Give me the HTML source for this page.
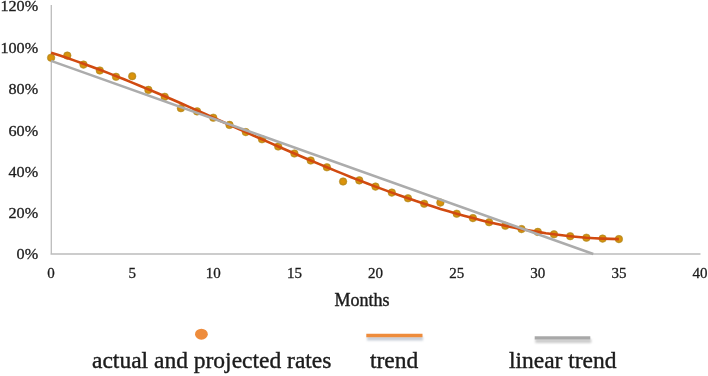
<!DOCTYPE html>
<html><head><meta charset="utf-8"><title>Chart</title>
<style>
html,body{margin:0;padding:0;background:#fff;}
body{width:708px;height:376px;overflow:hidden;}
svg{display:block;font-family:"Liberation Serif",serif;}
text{fill:#1c1c1c;stroke:#1c1c1c;stroke-width:0.4px;}
.t{font-size:15.5px;}
.x{font-size:15px;}
.t text,.x text{stroke-width:0.3px;}
.l{font-size:23.5px;}
</style></head><body>
<svg width="708" height="376" viewBox="0 0 708 376">
<defs><radialGradient id="dg"><stop offset="0" stop-color="#e29408"/><stop offset="0.55" stop-color="#d8920c"/><stop offset="1" stop-color="#b98a1c"/></radialGradient><filter id="sh" filterUnits="userSpaceOnUse" x="350" y="320" width="260" height="40"><feGaussianBlur stdDeviation="1.1"/></filter></defs>
<rect width="708" height="376" fill="#fff"/>
<path d="M51.3 5V254.6M50.5 254H700.5" stroke="#bcbcbc" stroke-width="1.3" fill="none"/>
<g fill="url(#dg)" stroke="#b98a1c" stroke-width="0.5"><circle cx="51.1" cy="57.7" r="3.8"/><circle cx="67.3" cy="55.6" r="3.8"/><circle cx="83.5" cy="64.6" r="3.8"/><circle cx="99.8" cy="70.5" r="3.8"/><circle cx="116.0" cy="76.8" r="3.8"/><circle cx="132.2" cy="76.2" r="3.8"/><circle cx="148.4" cy="89.9" r="3.8"/><circle cx="164.7" cy="96.8" r="3.8"/><circle cx="180.9" cy="108.2" r="3.8"/><circle cx="197.1" cy="111.4" r="3.8"/><circle cx="213.3" cy="117.7" r="3.8"/><circle cx="229.5" cy="124.9" r="3.8"/><circle cx="245.8" cy="132.1" r="3.8"/><circle cx="262.0" cy="139.3" r="3.8"/><circle cx="278.2" cy="146.5" r="3.8"/><circle cx="294.4" cy="153.5" r="3.8"/><circle cx="310.7" cy="160.5" r="3.8"/><circle cx="326.9" cy="167.3" r="3.8"/><circle cx="343.1" cy="181.5" r="3.8"/><circle cx="359.3" cy="180.4" r="3.8"/><circle cx="375.5" cy="186.6" r="3.8"/><circle cx="391.8" cy="192.6" r="3.8"/><circle cx="408.0" cy="198.3" r="3.8"/><circle cx="424.2" cy="203.7" r="3.8"/><circle cx="440.4" cy="202.6" r="3.8"/><circle cx="456.7" cy="213.7" r="3.8"/><circle cx="472.9" cy="218.1" r="3.8"/><circle cx="489.1" cy="222.2" r="3.8"/><circle cx="505.3" cy="225.8" r="3.8"/><circle cx="521.5" cy="229.1" r="3.8"/><circle cx="537.8" cy="231.9" r="3.8"/><circle cx="554.0" cy="234.3" r="3.8"/><circle cx="570.2" cy="236.2" r="3.8"/><circle cx="586.4" cy="237.7" r="3.8"/><circle cx="602.6" cy="238.6" r="3.8"/><circle cx="618.9" cy="239.1" r="3.8"/></g>
<polyline points="51.1,52.7 59.2,55.3 67.3,58.0 75.4,60.9 83.5,63.8 91.7,66.7 99.8,69.8 107.9,72.9 116.0,76.1 124.1,79.3 132.2,82.6 140.3,86.0 148.4,89.4 156.5,92.8 164.7,96.3 172.8,99.8 180.9,103.3 189.0,106.9 197.1,110.5 205.2,114.0 213.3,117.7 221.4,121.3 229.5,124.9 237.7,128.5 245.8,132.1 253.9,135.7 262.0,139.3 270.1,142.9 278.2,146.5 286.3,150.0 294.4,153.5 302.5,157.0 310.7,160.5 318.8,163.9 326.9,167.3 335.0,170.6 343.1,173.9 351.2,177.2 359.3,180.4 367.4,183.5 375.5,186.6 383.7,189.6 391.8,192.6 399.9,195.5 408.0,198.3 416.1,201.1 424.2,203.7 432.3,206.3 440.4,208.9 448.5,211.3 456.7,213.7 464.8,215.9 472.9,218.1 481.0,220.2 489.1,222.2 497.2,224.0 505.3,225.8 513.4,227.5 521.5,229.1 529.6,230.5 537.8,231.9 545.9,233.2 554.0,234.3 562.1,235.3 570.2,236.2 578.3,237.0 586.4,237.7 594.5,238.2 602.6,238.6 610.8,238.9 618.9,239.1" fill="none" stroke="#d14a10" stroke-width="2.6" stroke-linejoin="round"/>
<line x1="51.1" y1="60.9" x2="593.3" y2="254" stroke="#acacac" stroke-width="2.5"/>
<g class="t"><text x="38.2" y="259.0" text-anchor="end" textLength="21.6" lengthAdjust="spacingAndGlyphs">0%</text><text x="38.2" y="218.2" text-anchor="end" textLength="29.7" lengthAdjust="spacingAndGlyphs">20%</text><text x="38.2" y="177.0" text-anchor="end" textLength="29.7" lengthAdjust="spacingAndGlyphs">40%</text><text x="38.2" y="135.6" text-anchor="end" textLength="29.7" lengthAdjust="spacingAndGlyphs">60%</text><text x="38.2" y="94.1" text-anchor="end" textLength="29.7" lengthAdjust="spacingAndGlyphs">80%</text><text x="38.2" y="52.8" text-anchor="end" textLength="37.8" lengthAdjust="spacingAndGlyphs">100%</text><text x="38.2" y="11.4" text-anchor="end" textLength="37.8" lengthAdjust="spacingAndGlyphs">120%</text></g><g class="x"><text x="51.1" y="277.9" text-anchor="middle">0</text><text x="132.2" y="277.9" text-anchor="middle">5</text><text x="213.3" y="277.9" text-anchor="middle">10</text><text x="294.4" y="277.9" text-anchor="middle">15</text><text x="375.5" y="277.9" text-anchor="middle">20</text><text x="456.7" y="277.9" text-anchor="middle">25</text><text x="537.8" y="277.9" text-anchor="middle">30</text><text x="618.9" y="277.9" text-anchor="middle">35</text><text x="700.0" y="277.9" text-anchor="middle">40</text></g>
<text x="362" y="306.2" text-anchor="middle" font-size="18">Months</text>
<ellipse cx="201.4" cy="334.2" rx="6.4" ry="5.5" fill="#ee8c3c"/>
<rect x="367" y="336.5" width="56" height="4" fill="#8f9bb0" opacity="0.5" filter="url(#sh)"/>
<line x1="366.3" y1="335.5" x2="422.5" y2="335.5" stroke="#ee8c3c" stroke-width="3.6"/>
<rect x="535.3" y="339" width="56" height="4" fill="#9a9a9a" opacity="0.5" filter="url(#sh)"/>
<line x1="534.7" y1="337.9" x2="590.3" y2="337.9" stroke="#a8a8a8" stroke-width="3.2"/>
<g class="l">
<text x="92" y="367.9">actual and projected rates</text>
<text x="370" y="367.9">trend</text>
<text x="508.9" y="367.9">linear trend</text>
</g>
</svg>
</body></html>
